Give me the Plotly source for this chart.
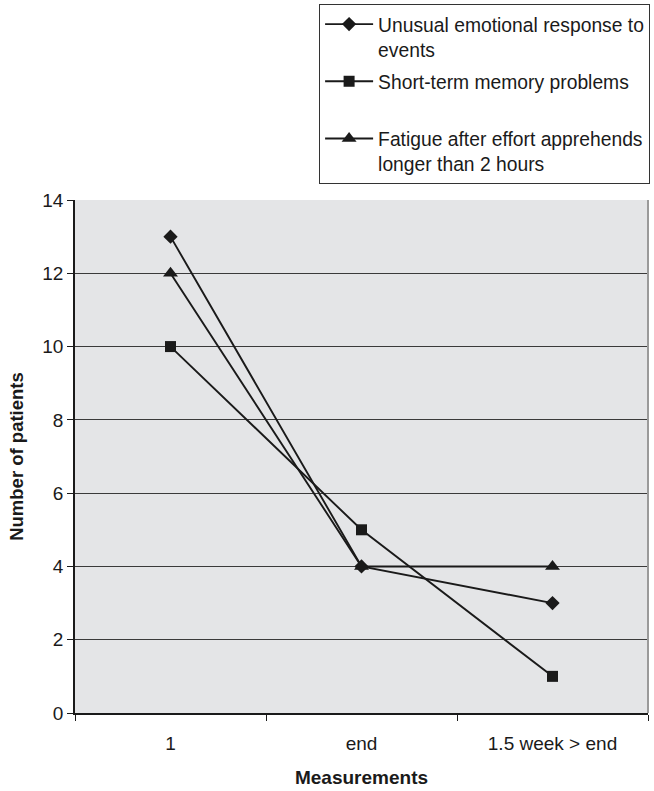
import plotly.graph_objects as go

# Measurement points along the x axis
measurements = ["1", "end", "1.5 week > end"]

# Number of patients reporting each complaint
emotional_response = [13, 4, 3]
memory_problems = [10, 5, 1]
fatigue_after_effort = [12, 4, 4]

series_names = [
    "Unusual emotional response to<br>events",
    "Short-term memory problems<br> ",
    "Fatigue after effort apprehends<br>longer than 2 hours",
]
series_values = [emotional_response, memory_problems, fatigue_after_effort]
series_symbols = ["diamond", "square", "triangle-up"]
series_sizes = [11, 11, 13]

INK = "#1a1a1a"
FONT = "Liberation Sans, Arial, sans-serif"

fig = go.Figure()
for i, (name, vals, sym, size) in enumerate(
    zip(series_names, series_values, series_symbols, series_sizes)
):
    fig.add_trace(
        go.Scatter(
            x=measurements,
            y=vals,
            name=name,
            legendgroup=f"g{i}",
            mode="lines+markers",
            line=dict(color=INK, width=1.9),
            marker=dict(symbol=sym, size=size, color=INK),
        )
    )

fig.update_layout(
    width=654,
    height=791,
    margin=dict(l=75, r=4, t=198, b=78),
    paper_bgcolor="white",
    plot_bgcolor="#e4e5e7",
    font=dict(family=FONT, size=19, color=INK),
    showlegend=True,
    legend=dict(
        x=0.426,
        y=1.382,
        xanchor="left",
        yanchor="top",
        bordercolor="#333333",
        borderwidth=1,
        bgcolor="white",
        font=dict(family=FONT, size=19.3, color=INK),
        valign="top",
        tracegroupgap=4,
        itemwidth=48,
    ),
    xaxis=dict(
        type="category",
        range=[-0.5, 2.5],
        tickson="boundaries",
        ticks="outside",
        ticklen=6,
        tickcolor=INK,
        showline=True,
        linecolor=INK,
        linewidth=1.5,
        showgrid=False,
        ticklabelstandoff=12,
        title=dict(
            text="<b>Measurements</b>",
            font=dict(family=FONT, size=19, color=INK),
            standoff=18,
        ),
    ),
    yaxis=dict(
        range=[0, 14],
        dtick=2,
        ticks="outside",
        ticklen=6,
        tickcolor=INK,
        showline=True,
        linecolor=INK,
        linewidth=1.5,
        showgrid=True,
        gridcolor="#3a3a3a",
        gridwidth=1,
        zeroline=False,
        title=dict(
            text="<b>Number of patients</b>",
            font=dict(family=FONT, size=18.5, color=INK),
            standoff=14,
        ),
    ),
)

# Grey frame on the right edge of the plotting area
fig.add_shape(
    type="line",
    xref="paper",
    yref="paper",
    x0=1,
    x1=1,
    y0=0,
    y1=1,
    line=dict(color="#9a9a9a", width=2),
)

fig.write_html("out.html")
